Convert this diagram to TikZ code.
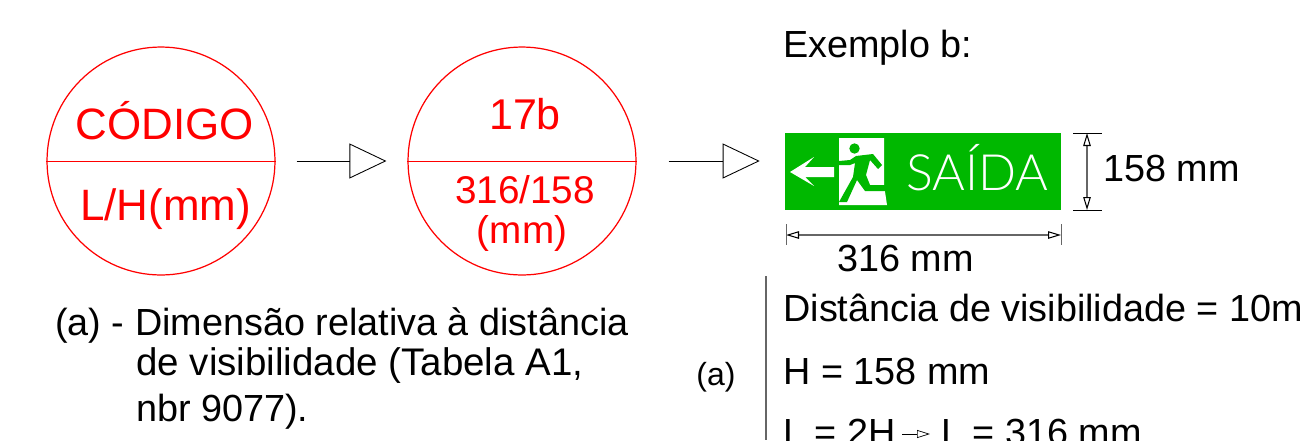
\documentclass[tikz,border=0pt]{standalone}
\usepackage{fontspec}
\setmainfont{Liberation Sans}
\newfontfamily\signfont[UprightFont=* Light]{Lato}
\usepackage{xcolor}
\usepackage{tikz}
\usetikzlibrary{arrows.meta,positioning,calc}
\definecolor{signgreen}{RGB}{0,184,0}
\begin{document}
\begin{tikzpicture}[
    x=0.02cm, y=-0.02cm,
    txt/.style={anchor=base west, inner sep=0pt, font=\fontsize{21.5}{25}\selectfont},
    redtxt/.style={anchor=base, inner sep=0pt, text=red},
    disc/.style={draw=red, circle, minimum size=4.56cm, inner sep=0pt, line width=0.7pt},
    openarr/.style={-{Triangle[open, length=0.74cm, width=0.7cm]}, line width=0.5pt},
    dimarr/.style={{Triangle[open, length=0.26cm, width=0.15cm, color=black]}-{Triangle[open, length=0.26cm, width=0.15cm, color=black]}, line width=0.6pt, black!60},
    tick/.style={line width=0.5pt, black!60}
]
    \useasboundingbox (0,0) rectangle (1315,440);

    % circles
    \node[disc] (code) at (161,161) {};
    \node[disc] (ex) at (522,161) {};
    \draw[red, line width=0.5pt] (code.west) -- (code.east);
    \draw[red, line width=0.5pt] (ex.west) -- (ex.east);
    \node[redtxt, font=\fontsize{25}{30}\selectfont] (codetop) at (164.5,139) {CÓDIGO};
    \node[redtxt, font=\fontsize{25}{30}\selectfont] (codebot) at (165.5,220) {L/H(mm)};
    \node[redtxt, font=\fontsize{24.5}{28}\selectfont] (extop) at (525,129) {17b};
    \node[redtxt, font=\fontsize{22}{26}\selectfont] (exmid) at (525,203) {316/158};
    \node[redtxt, font=\fontsize{22}{26}\selectfont] (exbot) at (522,243) {(mm)};

    % sign
    \node[draw=none, fill=signgreen, minimum width=5.52cm, minimum height=1.54cm, inner sep=0pt] (sign) at (923,171.5) {};
    \fill[white] (790,172) -- (814,157) -- (805,167) -- (834,167) -- (834,177) -- (805,177) -- (814,186) -- cycle;
    \fill[white] (839,138) -- (884,138) -- (884,185) -- (887,205) -- (839,205) -- cycle;
    \fill[signgreen] (854.5,148.5) circle (5.2);
    \fill[signgreen] (839,161) -- (850,160) -- (856,156) -- (873,154) -- (882,165) -- (878,169) -- (870,160) -- (866,175) -- (870,185) -- (885,185) -- (885,191) -- (865,191) -- (857,180) -- (847,202) -- (839,202) -- (853,177) -- (855,163) -- (850,165) -- (839,165) -- cycle;
    \node[anchor=base, inner sep=0pt, text=white, font=\signfont\fontsize{28.5}{32}\selectfont] (saida) at (977.5,190) {SAÍDA};

    % dimensions
    \coordinate (dimT) at (1087,133);
    \coordinate (dimB) at (1087,210);
    \coordinate (dimL) at (786,235);
    \coordinate (dimR) at (1061,235);
    \draw[dimarr] (dimT) -- (dimB);
    \draw[dimarr] (dimL) -- (dimR);
    \draw[tick, black] (1073,133) -- (1102,133);
    \draw[tick, black] (1073,210) -- (1102,210);
    \draw[tick] (786,224) -- (786,245);
    \draw[tick] (1061,224) -- (1061,245);

    % connectors
    \draw[openarr, shorten <=0.42cm, shorten >=0.42cm] (code.east) -- (ex.west);
    \draw[openarr, shorten <=0.64cm, shorten >=0.5cm] (ex.east) -- (sign.west |- ex.east);

    % texts
    \node[txt] (title) at (783,57) {Exemplo b:};
    \node[txt] (dimh) at (1103,181) {158 mm};
    \node[txt] (dimw) at (837,271) {316 mm};
    \node[txt] (note1) at (55,335) {(a) - Dimensão relativa à distância};
    \node[txt, font=\fontsize{21.9}{25}\selectfont] (note2) at (136,375) {de visibilidade (Tabela A1,};
    \node[txt] (note3) at (136,421) {nbr 9077).};
    \node[txt, font=\fontsize{18.2}{20}\selectfont] (mark) at (696,385) {(a)};
    \node[txt] (dist) at (783,321) {Distância de visibilidade = 10m};
    \node[txt] (hval) at (783,384.5) {H = 158 mm};
    \node[txt] (lval) at (783,445) {L = 2H};
    \node[txt] (lres) at (941,445) {L = 316 mm};
    \draw[line width=0.4pt, -{Triangle[open, length=0.26cm, width=0.16cm]}] (902,434) -- (930,434);
    \draw[line width=0.7pt, black!60] (766,276) -- (766,440);
\end{tikzpicture}
\end{document}
